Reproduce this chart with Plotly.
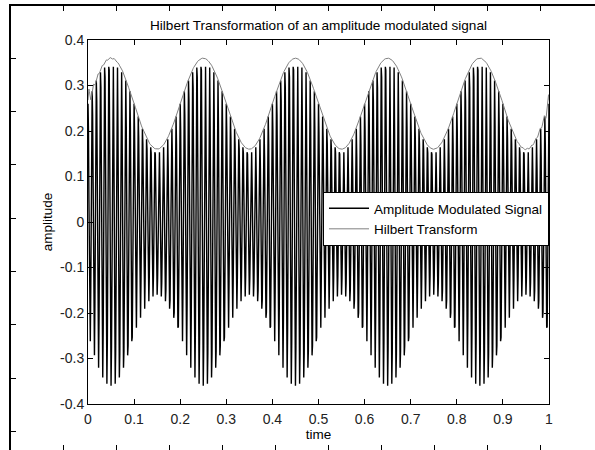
import numpy as np
import plotly.graph_objects as go

# Signal parameters
sample_rate = 1000.0          # samples per second
duration = 1.0                # seconds
carrier_freq = 110.0          # Hz
mod_freq = 5.0                # Hz
carrier_amp = 0.26
mod_amp = 0.10

# Axis ticks
x_ticks = [0, 0.1, 0.2, 0.3, 0.4, 0.5, 0.6, 0.7, 0.8, 0.9, 1]
x_tick_text = ["0", "0.1", "0.2", "0.3", "0.4", "0.5", "0.6", "0.7", "0.8", "0.9", "1"]
y_ticks = [-0.4, -0.3, -0.2, -0.1, 0, 0.1, 0.2, 0.3, 0.4]
y_tick_text = ["-0.4", "-0.3", "-0.2", "-0.1", "0", "0.1", "0.2", "0.3", "0.4"]

t = np.arange(0, duration + 0.5 / sample_rate, 1.0 / sample_rate)
am_signal = (carrier_amp + mod_amp * np.sin(2 * np.pi * mod_freq * t)) * np.cos(2 * np.pi * carrier_freq * t)

# Analytic signal via FFT (Hilbert transform), magnitude gives the envelope
n = len(am_signal)
spec = np.fft.fft(am_signal)
h = np.zeros(n)
if n % 2 == 0:
    h[0] = h[n // 2] = 1
    h[1:n // 2] = 2
else:
    h[0] = 1
    h[1:(n + 1) // 2] = 2
envelope = np.abs(np.fft.ifft(spec * h))

W, H = 595, 450
FONT = "Liberation Sans, Arial, sans-serif"

fig = go.Figure()
fig.add_trace(go.Scatter(x=t, y=am_signal, mode="lines", name="Amplitude Modulated Signal",
                         line=dict(color="black", width=1.4)))
fig.add_trace(go.Scatter(x=t, y=envelope, mode="lines", name="Hilbert Transform",
                         line=dict(color="#808080", width=1)))

# Outer frame axes (ticks only, no labels)
px_x0, px_tick_dx, px_first_xtick = 11.0, 53.1, 63.0
px_y0, px_tick_dy, px_first_ytick = 6.0, 53.3, 58.3
x2_range = [0, (W - px_x0) / px_tick_dx]
x2_ticks = [(px_first_xtick - px_x0) / px_tick_dx + k for k in range(11)]
y2_range = [0, (H - px_y0) / px_tick_dy]
y2_ticks = [(H - px_first_ytick) / px_tick_dy - k for k in range(8)]
top_y = 1 - px_y0 / H

fig.add_trace(go.Scatter(x=[None], y=[None], xaxis="x2", yaxis="y2", showlegend=False, hoverinfo="skip"))

frame_axis = dict(showticklabels=False, ticklen=5, tickcolor="black",
                  showgrid=False, zeroline=False, automargin=False)

fig.update_layout(
    width=W, height=H,
    margin=dict(l=0, r=0, t=0, b=0, pad=0, autoexpand=False),
    paper_bgcolor="white", plot_bgcolor="rgba(0,0,0,0)",
    font=dict(family=FONT, size=14, color="black"),
    title=dict(text="Hilbert Transformation of an amplitude modulated signal",
               x=(88 + 549) / 2 / W, xanchor="center", y=1 - 25 / H, yanchor="middle",
               font=dict(size=13.6, color="black"), automargin=False),
    xaxis=dict(domain=[88 / W, 549 / W], range=[0, 1], tickvals=x_ticks, ticktext=x_tick_text,
               ticks="inside", ticklen=5, tickcolor="black", showline=True, linecolor="black",
               linewidth=1, mirror="ticks", showgrid=False, zeroline=False, automargin=False,
               tickfont=dict(size=14, color="#222"), ticklabelstandoff=2,
               title=dict(text="time", standoff=1, font=dict(size=13.5)), anchor="y"),
    yaxis=dict(domain=[46 / H, 410 / H], range=[-0.4, 0.4], tickvals=y_ticks, ticktext=y_tick_text,
               ticks="inside", ticklen=5, tickcolor="black", showline=True, linecolor="black",
               linewidth=1, mirror="ticks", showgrid=False, zeroline=False, automargin=False,
               tickfont=dict(size=14, color="#222"),
               title=dict(text="amplitude", standoff=4, font=dict(size=13.5)), anchor="x"),
    # outer frame: bottom edge sits on the page edge, its mirror forms the top edge
    xaxis2=dict(domain=[px_x0 / W, 1], range=x2_range, tickvals=x2_ticks, ticks="inside",
                showline=True, linecolor="black", linewidth=1.5, mirror="ticks",
                side="bottom", anchor="y2", **frame_axis),
    yaxis2=dict(domain=[0, top_y], range=y2_range, tickvals=y2_ticks, ticks="inside",
                showline=True, linecolor="black", linewidth=1.5, side="left", anchor="x2",
                **frame_axis),
    legend=dict(x=549 / W, xanchor="right", y=1 - 192 / H, yanchor="top",
                bgcolor="white", bordercolor="black", borderwidth=1, itemwidth=40,
                font=dict(size=13.5, color="black"), tracegroupgap=0),
    showlegend=True,
)

fig.write_html("out.html", config={"displayModeBar": False})
